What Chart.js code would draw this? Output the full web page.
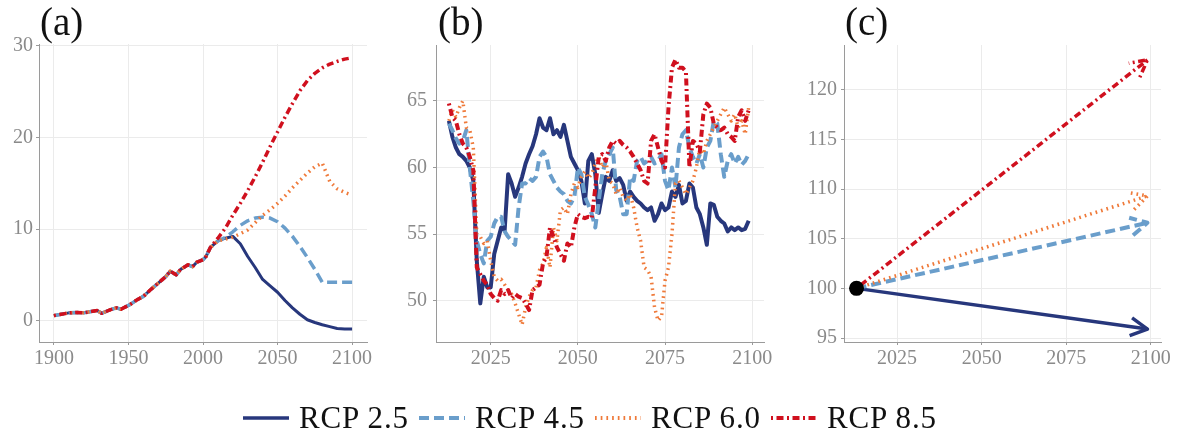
<!DOCTYPE html>
<html>
<head>
<meta charset="utf-8">
<script src="https://cdn.jsdelivr.net/npm/chart.js@4.4.1/dist/chart.umd.min.js"></script>
<style>
  html, body { margin: 0; padding: 0; background: #ffffff; }
  #wrap { position: relative; width: 1180px; height: 436px; overflow: hidden; background: #fff; }
  canvas { position: absolute; top: 0; }
  #overlay { position: absolute; left: 0; top: 0; pointer-events: none; }
  #overlay text { font-family: 'Liberation Serif', 'Times New Roman', serif; fill: #111; }
</style>
</head>
<body>
<div id="wrap">
  <canvas id="ca" width="385" height="380" style="left:0px"></canvas>
  <canvas id="cb" width="390" height="380" style="left:390px"></canvas>
  <canvas id="cc" width="390" height="380" style="left:790px"></canvas>
  <svg id="overlay" width="1180" height="436" xmlns="http://www.w3.org/2000/svg">
    <text x="40" y="35" font-size="39">(a)</text>
    <text x="438" y="35" font-size="39">(b)</text>
    <text x="845" y="35" font-size="39">(c)</text>
    <g id="legend"></g>
  </svg>
</div>
<script>
// ---------------- DATA ----------------
const seriesNames = ['RCP 2.5', 'RCP 4.5', 'RCP 6.0', 'RCP 8.5'];

// Panel (a): shared historical part
const histYearsA = [1900, 1905, 1910, 1915, 1920, 1925, 1929, 1932, 1935, 1938, 1942, 1945, 1948, 1951, 1956, 1960, 1965, 1970, 1975, 1978, 1982, 1985, 1990, 1993, 1996, 2000, 2002, 2005];
const histValsA  = [0.55, 0.7, 0.85, 0.9, 0.85, 1.0, 1.1, 0.8, 1.0, 1.2, 1.4, 1.25, 1.5, 1.75, 2.3, 2.65, 3.4, 4.1, 4.8, 5.4, 5.0, 5.6, 6.1, 5.9, 6.4, 6.65, 7.0, 8.0];
// Panel (a): scenario part
const futYearsA = [2010, 2015, 2020, 2025, 2030, 2035, 2040, 2045, 2050, 2055, 2060, 2065, 2070, 2075, 2080, 2085, 2090, 2095, 2100];
const rcp26A = [8.7, 9.0, 9.2, 8.4, 7.0, 5.8, 4.5, 3.8, 3.1, 2.2, 1.4, 0.7, 0.1, -0.2, -0.45, -0.65, -0.85, -0.9, -0.9];
const rcp45A = [8.7, 9.1, 9.7, 10.4, 10.9, 11.2, 11.3, 11.2, 10.8, 10.1, 9.2, 8.1, 6.9, 5.6, 4.2, 4.2, 4.2, 4.2, 4.2];
const rcp60A = [8.7, 8.9, 9.1, 9.5, 9.9, 10.7, 11.5, 12.1, 12.8, 13.6, 14.5, 15.3, 16.1, 16.8, 17.2, 15.2, 14.4, 14.0, 13.7];
const rcp85A = [9.0, 10.1, 11.5, 12.8, 14.2, 15.7, 17.3, 19.0, 20.6, 22.2, 23.7, 25.1, 26.2, 27.0, 27.6, 28.0, 28.3, 28.55, 28.7];
const xTicksA = [1900, 1950, 2000, 2050, 2100];
const yTicksA = [0, 10, 20, 30];

// Panel (b)
const yearsB = [2013, 2014, 2015, 2016, 2017, 2018, 2019, 2020, 2021, 2022, 2023, 2024, 2025, 2026, 2027, 2028, 2029, 2030,
  2031, 2032, 2033, 2034, 2035, 2036, 2037, 2038, 2039, 2040, 2041, 2042, 2043, 2044, 2045, 2046, 2047, 2048, 2049, 2050,
  2051, 2052, 2053, 2054, 2055, 2056, 2057, 2058, 2059, 2060, 2061, 2062, 2063, 2064, 2065, 2066, 2067, 2068, 2069, 2070,
  2071, 2072, 2073, 2074, 2075, 2076, 2077, 2078, 2079, 2080, 2081, 2082, 2083, 2084, 2085, 2086, 2087, 2088, 2089, 2090,
  2091, 2092, 2093, 2094, 2095, 2096, 2097, 2098, 2099];
const rcp26B = [63.5, 62.3, 61.5, 61.0, 60.8, 60.5, 60.0, 59.0, 53.0, 49.8, 51.8, 51.0, 51.0, 53.5, 54.5, 55.5, 55.3, 59.5,
  58.8, 57.8, 58.5, 59.3, 60.3, 61.0, 61.6, 62.5, 63.7, 63.0, 62.8, 63.7, 62.5, 62.8, 62.3, 63.2, 62.0, 60.8, 60.3, 59.8,
  59.0, 57.3, 60.5, 61.0, 59.5, 56.6, 58.0, 59.3, 59.0, 59.8, 59.0, 59.2, 58.7, 57.5, 58.2, 57.8, 57.5, 57.3, 57.0, 56.8,
  57.0, 56.0, 56.5, 57.3, 56.8, 57.0, 58.2, 57.8, 58.7, 57.3, 57.5, 58.8, 58.5, 57.0, 56.5, 55.5, 54.2, 57.3, 57.2, 56.3,
  56.0, 55.8, 55.2, 55.5, 55.3, 55.5, 55.3, 55.4, 56.0];
const rcp45B = [63.3, 62.8, 62.2, 61.8, 62.0, 62.8, 60.0, 57.5, 54.5, 53.5, 52.8, 54.5, 54.8, 55.8, 56.3, 56.3, 55.2, 54.8,
  54.5, 54.2, 57.0, 58.8, 58.8, 59.2, 59.0, 59.3, 60.8, 61.2, 60.8, 59.5, 59.0, 58.5, 58.2, 58.0, 57.5, 57.3, 57.8, 60.0,
  59.5, 57.8, 57.2, 56.5, 55.5, 57.5, 59.5, 60.5, 61.0, 61.5, 58.3, 57.8, 56.5, 56.5, 59.3, 59.0, 60.5, 60.8, 60.3, 60.5,
  60.8, 60.3, 60.5, 61.0, 59.0, 58.3, 60.0, 58.5, 61.5, 62.5, 62.8, 61.5, 60.8, 60.3, 61.0, 60.0, 61.5, 62.0, 63.5, 63.3,
  61.0, 59.3, 60.5, 61.0, 60.3, 60.8, 60.2, 60.5, 61.0];
const rcp60B = [63.5, 64.3, 63.8, 64.5, 65.0, 63.0, 62.8, 61.5, 55.0, 54.8, 54.3, 54.5, 53.0, 51.8, 51.5, 51.6, 51.2, 50.8,
  50.5, 49.8, 49.0, 48.2, 49.5, 50.3, 50.8, 51.0, 52.3, 52.8, 54.0, 52.5, 55.5, 54.5, 56.8, 57.0, 56.5, 58.0, 58.8, 58.5,
  59.3, 59.7, 59.2, 59.5, 60.3, 60.8, 60.0, 60.5, 59.0, 58.8, 58.0, 58.5, 57.8, 57.5, 58.0, 57.0, 55.5, 54.5, 52.5, 52.3,
  51.8, 49.5, 48.5, 48.8, 51.5, 52.5, 55.0, 58.8, 59.0, 58.5, 58.0, 58.5, 59.0, 60.0, 61.5, 61.0, 62.0, 62.5, 63.0, 63.5,
  64.0, 64.5, 64.0, 63.5, 64.0, 63.0, 63.5, 62.5, 64.5];
const rcp85B = [64.8, 63.8, 63.5, 62.5, 61.8, 61.5, 60.8, 59.8, 52.5, 52.0, 51.5, 51.2, 50.5, 50.2, 50.0, 50.8, 50.5, 50.8,
  50.2, 50.5, 50.3, 50.2, 49.8, 49.3, 50.8, 51.0, 51.2, 52.8, 53.3, 55.5, 54.8, 54.0, 53.5, 53.0, 54.3, 54.0, 55.5, 56.5,
  56.3, 56.2, 56.3, 56.2, 58.5, 60.8, 61.0, 60.5, 61.5, 62.0, 61.8, 62.0, 61.7, 61.5, 61.2, 60.8, 60.3, 59.8, 59.0, 58.8,
  62.0, 62.5, 61.5, 60.5, 60.0, 64.5, 67.5, 68.1, 67.5, 67.5, 67.2, 60.0, 62.0, 61.8, 61.2, 64.0, 64.8, 64.5, 63.3, 63.0,
  62.8, 63.0, 62.5, 62.3, 62.0, 63.8, 64.3, 63.5, 64.3];
const xTicksB = [2025, 2050, 2075, 2100];
const yTicksB = [50, 55, 60, 65];

// Panel (c)
const yearsC = [2013, 2099];
const rcp26C = [100, 95.9];
const rcp45C = [100, 106.6];
const rcp60C = [100, 109.3];
const rcp85C = [100, 123.0];
const startYearC = 2013;
const startValC = 100;
const xTicksC = [2025, 2050, 2075, 2100];
const yTicksC = [95, 100, 105, 110, 115, 120];

// ---------------- STYLES ----------------
const COLORS = ['#27377c', '#6a9ecb', '#ef7a3a', '#d0101e'];
const DASHES = [[], [10, 5], [1.7, 4], [2, 3.5, 7, 3.5]];
const TICK_COLOR = '#8a8a8a';
const AXIS_COLOR = '#9a9a9a';
const GRID_COLOR = '#ebebeb';
const FONT = "'Liberation Serif', 'Times New Roman', serif";

Chart.defaults.font.family = FONT;

function pts(xs, ys) { return xs.map((x, i) => ({ x: x, y: ys[i] })); }

function lineDs(idx, data, width) {
  return {
    label: seriesNames[idx],
    data: data,
    borderColor: COLORS[idx],
    backgroundColor: COLORS[idx],
    borderWidth: width,
    borderDash: DASHES[idx],
    borderCapStyle: 'butt',
    borderJoinStyle: 'round',
    pointRadius: 0,
    tension: 0,
    fill: false,
    order: 4 - idx
  };
}

function axisCfg(min, max, ticksArr, isX, size, pad) {
  return {
    type: 'linear',
    min: min, max: max,
    afterFit: (s) => { if (isX) { s.height = size; } else { s.width = size; } },
    afterBuildTicks: (s) => { s.ticks = ticksArr.map(v => ({ value: v })); },
    grid: { color: GRID_COLOR, lineWidth: 1, drawTicks: true, tickLength: 3, tickColor: AXIS_COLOR, tickWidth: 1 },
    border: { display: true, color: AXIS_COLOR, width: 1 },
    ticks: {
      color: TICK_COLOR, font: { size: 20, family: FONT }, padding: pad,
      maxRotation: 0, minRotation: 0, autoSkip: false,
      callback: (v) => String(v)
    }
  };
}

function baseOpts(o) {
  return {
    responsive: false,
    animation: false,
    events: [],
    layout: { padding: { left: 0, right: o.padR, top: o.padT, bottom: 0 } },
    plugins: { legend: { display: false }, tooltip: { enabled: false } },
    scales: {
      x: axisCfg(o.xMin, o.xMax, o.xTicks, true, 38, o.xPad),
      y: axisCfg(o.yMin, o.yMax, o.yTicks, false, o.yW, o.yPad)
    }
  };
}

// ---------------- PANEL (a) ----------------
const histPts = pts(histYearsA, histValsA);
new Chart(document.getElementById('ca'), {
  type: 'line',
  data: {
    datasets: [
      lineDs(0, histPts.concat(pts(futYearsA, rcp26A)), 3),
      lineDs(1, histPts.concat(pts(futYearsA, rcp45A)), 3.5),
      lineDs(2, histPts.concat(pts(futYearsA, rcp60A)), 3.5),
      lineDs(3, histPts.concat(pts(futYearsA, rcp85A)), 3.5)
    ]
  },
  options: baseOpts({ padR: 18, padT: 44, xMin: 1890, xMax: 2110, xTicks: xTicksA, xPad: 2,
                      yMin: -2.33, yMax: 30.2, yTicks: yTicksA, yW: 39, yPad: 3 })
});

// ---------------- PANEL (b) ----------------
new Chart(document.getElementById('cb'), {
  type: 'line',
  data: {
    datasets: [
      lineDs(0, pts(yearsB, rcp26B), 4),
      lineDs(1, pts(yearsB, rcp45B), 4),
      lineDs(2, pts(yearsB, rcp60B), 3.5),
      lineDs(3, pts(yearsB, rcp85B), 4)
    ]
  },
  options: baseOpts({ padR: 16, padT: 45, xMin: 2009.3, xMax: 2103.4, xTicks: xTicksB, xPad: 2,
                      yMin: 46.9, yMax: 69.2, yTicks: yTicksB, yW: 46, yPad: 6 })
});

// ---------------- PANEL (c) ----------------
const arrowPlugin = {
  id: 'arrowHeads',
  afterDatasetsDraw(chart) {
    const ctx = chart.ctx;
    chart.data.datasets.forEach((ds, i) => {
      if (!ds.arrow) return;
      const meta = chart.getDatasetMeta(i);
      const n = meta.data.length;
      if (n < 2) return;
      const p1 = meta.data[n - 2], p2 = meta.data[n - 1];
      const ang = Math.atan2(p2.y - p1.y, p2.x - p1.x);
      const len = 19, spread = 28 * Math.PI / 180;
      ctx.save();
      ctx.strokeStyle = ds.borderColor;
      ctx.lineWidth = ds.borderWidth;
      ctx.setLineDash(ds.borderDash || []);
      ctx.lineCap = 'butt';
      ctx.lineJoin = 'round';
      ctx.beginPath();
      ctx.moveTo(p2.x - len * Math.cos(ang - spread), p2.y - len * Math.sin(ang - spread));
      ctx.lineTo(p2.x, p2.y);
      ctx.lineTo(p2.x - len * Math.cos(ang + spread), p2.y - len * Math.sin(ang + spread));
      ctx.stroke();
      ctx.restore();
    });
  }
};

const dsC = [
  Object.assign(lineDs(0, pts(yearsC, rcp26C), 3.5), { arrow: true }),
  Object.assign(lineDs(1, pts(yearsC, rcp45C), 4), { arrow: true }),
  Object.assign(lineDs(2, pts(yearsC, rcp60C), 3.5), { arrow: true }),
  Object.assign(lineDs(3, pts(yearsC, rcp85C), 3.5), { arrow: true }),
  {
    label: 'start',
    data: [{ x: startYearC, y: startValC }],
    showLine: false,
    pointRadius: 7.5,
    pointBackgroundColor: '#000',
    pointBorderColor: '#000',
    pointBorderWidth: 0,
    order: 0
  }
];
new Chart(document.getElementById('cc'), {
  type: 'line',
  data: { datasets: dsC },
  options: baseOpts({ padR: 19, padT: 45, xMin: 2009.3, xMax: 2103.0, xTicks: xTicksC, xPad: 2,
                      yMin: 94.6, yMax: 124.5, yTicks: yTicksC, yW: 54, yPad: 4 }),
  plugins: [arrowPlugin]
});

// ---------------- LEGEND (SVG text + key lines) ----------------
(function () {
  const g = document.getElementById('legend');
  const NS = 'http://www.w3.org/2000/svg';
  const startX = 243, step = 176, keyLen = 46, keyY = 418, textBase = 428;
  seriesNames.forEach((name, i) => {
    const x0 = startX + i * step;
    const ln = document.createElementNS(NS, 'line');
    ln.setAttribute('x1', x0); ln.setAttribute('x2', x0 + keyLen);
    ln.setAttribute('y1', keyY); ln.setAttribute('y2', keyY);
    ln.setAttribute('stroke', COLORS[i]);
    ln.setAttribute('stroke-width', i === 0 ? 3.5 : 4);
    if (DASHES[i].length) ln.setAttribute('stroke-dasharray', DASHES[i].join(' '));
    g.appendChild(ln);
    const t = document.createElementNS(NS, 'text');
    t.setAttribute('x', x0 + keyLen + 10);
    t.setAttribute('y', textBase);
    t.setAttribute('font-size', '31');
    t.setAttribute('textLength', '109');
    t.setAttribute('lengthAdjust', 'spacing');
    t.textContent = name;
    g.appendChild(t);
  });
})();
</script>
</body>
</html>
